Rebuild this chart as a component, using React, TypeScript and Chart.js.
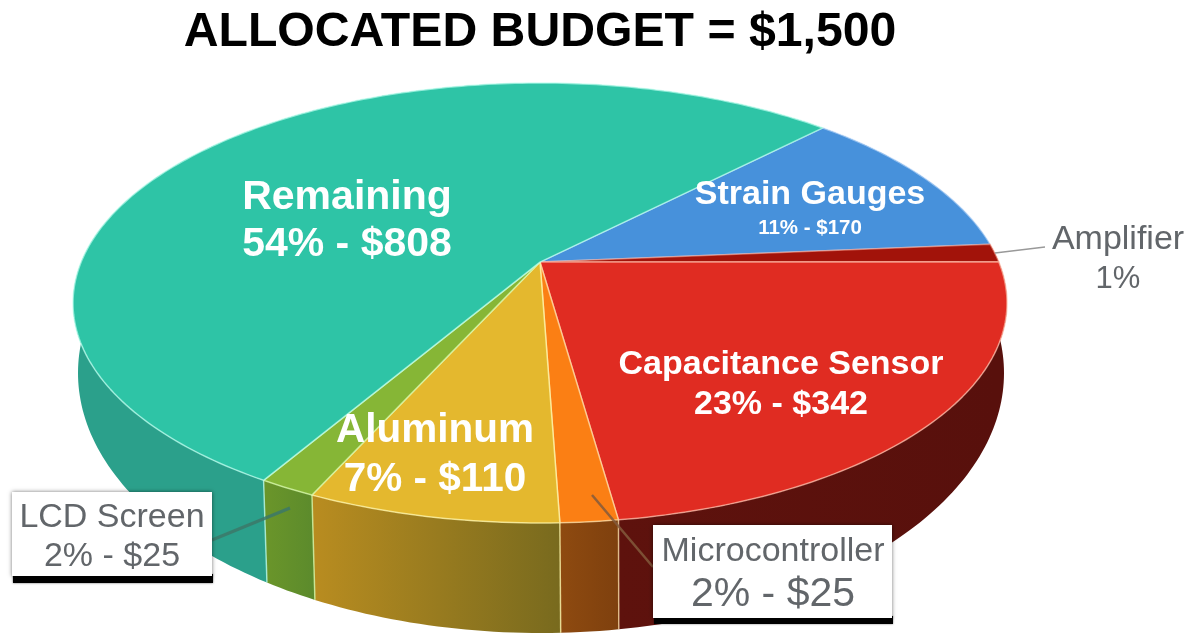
import React, { useEffect, useRef } from "react";
import { Chart, registerables, ArcElement, PieController } from "chart.js";

const titleText = "ALLOCATED BUDGET = $1,500";
const categories = ["Strain Gauges", "Amplifier", "Capacitance Sensor", "Microcontroller", "Aluminum", "LCD Screen", "Remaining"];
const amounts = [170, 20, 342, 25, 110, 25, 808];
const detailLines = ["11% - $170", "1%", "23% - $342", "2% - $25", "7% - $110", "2% - $25", "54% - $808"];
const topColors = ["#4791db", "#a2130a", "#e02c22", "#fb7f14", "#e4b82e", "#86b636", "#2ec4a6"];
const wallFrom = ["#2f6aa5", "#6e0d07", "#5e120d", "#8e4a10", "#b88c20", "#6a952a", "#2ba08b"];
const wallTo = ["#2f6aa5", "#6e0d07", "#58100c", "#7e400e", "#786a1e", "#5b8a2c", "#279b85"];
const edgeColors = ["rgba(200,225,255,.6)", "rgba(255,170,150,.55)", "rgba(255,190,170,.7)", "rgba(255,225,170,.7)", "rgba(255,245,170,.75)", "rgba(215,250,170,.75)", "rgba(190,255,240,.7)"];

// geometry of the tilted pie (top face and base outlines, perspective shift of the apex)
const TOP = { cx: 540, cy: 303, rx: 467, ry: 220 };
const BASE = { cx: 541, cy: 373, rx: 463, ry: 260 };
const TILT = -0.186;
const FONT = '"Liberation Sans", Arial, sans-serif';

function disc(theta: number, r: number) {
  const u = r * Math.cos(theta);
  const v = r * Math.sin(theta);
  const d = 1 + TILT * v;
  return { u: (u * Math.sqrt(1 - TILT * TILT)) / d, v: (v + TILT) / d };
}
function project(theta: number, r: number, e: typeof TOP) {
  const p = disc(theta, r);
  return { x: e.cx + e.rx * p.u, y: e.cy + e.ry * p.v };
}

class Arc3D extends ArcElement {
  static id = "arc3d";
  angles() {
    const { startAngle, endAngle } = (this as any).getProps(["startAngle", "endAngle"], true);
    return { a0: startAngle as number, a1: endAngle as number };
  }
  drawWall(ctx: CanvasRenderingContext2D, index: number) {
    const { a0, a1 } = this.angles();
    const steps = Math.max(2, Math.ceil((a1 - a0) / (Math.PI / 180)));
    const p0 = project(a0, 1, BASE);
    const p1 = project(a1, 1, BASE);
    const g = ctx.createLinearGradient(Math.min(p0.x, p1.x), 0, Math.max(p0.x, p1.x) + 1, 0);
    g.addColorStop(0, wallFrom[index]);
    g.addColorStop(1, wallTo[index]);
    ctx.beginPath();
    for (let i = 0; i <= steps; i++) {
      const p = project(a0 + ((a1 - a0) * i) / steps, 1, TOP);
      i ? ctx.lineTo(p.x, p.y) : ctx.moveTo(p.x, p.y);
    }
    for (let i = steps; i >= 0; i--) {
      const p = project(a0 + ((a1 - a0) * i) / steps, 1, BASE);
      ctx.lineTo(p.x, p.y);
    }
    ctx.closePath();
    ctx.fillStyle = g;
    ctx.fill();
  }
  drawSeams(ctx: CanvasRenderingContext2D, index: number) {
    const { a0 } = this.angles();
    const t = project(a0, 1, TOP);
    const b = project(a0, 1, BASE);
    ctx.beginPath();
    ctx.moveTo(t.x, t.y);
    ctx.lineTo(b.x, b.y);
    ctx.strokeStyle = edgeColors[index];
    ctx.lineWidth = 1.5;
    ctx.stroke();
  }
  draw(ctx: CanvasRenderingContext2D) {
    const { a0, a1 } = this.angles();
    const o = (this as any).options;
    const steps = Math.max(2, Math.ceil((a1 - a0) / (Math.PI / 180)));
    const apex = project(0, 0, TOP);
    ctx.beginPath();
    ctx.moveTo(apex.x, apex.y);
    for (let i = 0; i <= steps; i++) {
      const p = project(a0 + ((a1 - a0) * i) / steps, 1, TOP);
      ctx.lineTo(p.x, p.y);
    }
    ctx.closePath();
    ctx.fillStyle = o.backgroundColor;
    ctx.fill();
    ctx.strokeStyle = o.borderColor;
    ctx.lineWidth = o.borderWidth;
    ctx.lineJoin = "round";
    ctx.stroke();
  }
}

class Pie3DController extends PieController {
  static id = "pie3d";
  static defaults = { dataElementType: "arc3d" };
  draw() {
    const ctx = (this as any).chart.ctx as CanvasRenderingContext2D;
    const els = (this as any)._cachedMeta.data as Arc3D[];
    els.forEach((e, i) => e.drawWall(ctx, i));
    els.forEach((e, i) => e.drawSeams(ctx, i));
    super.draw();
  }
}

Chart.register(...registerables, Arc3D, Pie3DController);

const insideLabels = [
  { i: 6, x: 347, y: [198, 245], size: [41, 41] },
  { i: 0, x: 810, y: [195, 228], size: [34, 20.5] },
  { i: 2, x: 781, y: [365, 405], size: [34, 34] },
  { i: 4, x: 435, y: [431, 480], size: [40.5, 40.5] },
];
const callouts = [
  { i: 5, box: [12, 492, 200, 84], bar: 7, x: 112, y: [518, 557], size: [34, 34], line: [212, 540, 290, 508], lineColor: "rgba(60,120,105,.85)", lineWidth: 3 },
  { i: 3, box: [653, 525, 239, 93], bar: 6, x: 773, y: [552, 595], size: [34, 41], line: [653, 567, 592, 495], lineColor: "rgba(130,90,60,.85)", lineWidth: 2.5 },
  { i: 1, box: null, bar: 0, x: 1118, y: [240, 279], size: [34, 31], line: [995, 253, 1045, 247], lineColor: "#999999", lineWidth: 1.5 },
];

const labelsPlugin = {
  id: "sliceLabels",
  afterDatasetsDraw(chart: any) {
    const ctx = chart.ctx as CanvasRenderingContext2D;
    ctx.save();
    ctx.textAlign = "center";
    ctx.textBaseline = "middle";
    for (const l of insideLabels) {
      ctx.fillStyle = "#ffffff";
      ctx.font = `bold ${l.size[0]}px ${FONT}`;
      ctx.fillText(categories[l.i], l.x, l.y[0]);
      ctx.font = `bold ${l.size[1]}px ${FONT}`;
      ctx.fillText(detailLines[l.i], l.x, l.y[1]);
    }
    for (const c of callouts) {
      ctx.beginPath();
      ctx.moveTo(c.line[0], c.line[1]);
      ctx.lineTo(c.line[2], c.line[3]);
      ctx.strokeStyle = c.lineColor;
      ctx.lineWidth = c.lineWidth;
      ctx.stroke();
      if (c.box) {
        const [x, y, w, h] = c.box;
        ctx.save();
        ctx.shadowColor = "rgba(0,0,0,.6)";
        ctx.shadowBlur = 2;
        ctx.fillStyle = "#000000";
        ctx.fillRect(x + 1, y + h - 2, w, c.bar + 2);
        ctx.shadowColor = "rgba(0,0,0,.55)";
        ctx.shadowBlur = 4;
        ctx.fillStyle = "#ffffff";
        ctx.fillRect(x, y, w, h);
        ctx.restore();
      }
      ctx.fillStyle = "#62666a";
      ctx.font = `${c.size[0]}px ${FONT}`;
      ctx.fillText(categories[c.i], c.x, c.y[0]);
      ctx.font = `${c.size[1]}px ${FONT}`;
      ctx.fillText(detailLines[c.i], c.x, c.y[1]);
    }
    ctx.restore();
  },
};

export default function App() {
  const ref = useRef<HTMLCanvasElement>(null);
  useEffect(() => {
    document.body.style.margin = "0";
    const chart = new Chart(ref.current!, {
      type: "pie3d" as any,
      data: {
        labels: categories,
        datasets: [
          {
            data: amounts,
            backgroundColor: topColors,
            borderColor: edgeColors,
            borderWidth: 1.5,
          },
        ],
      },
      options: {
        animation: false,
        responsive: false,
        maintainAspectRatio: false,
        rotation: 44.3,
        layout: { padding: { right: 115 } },
        plugins: {
          legend: { display: false },
          tooltip: { enabled: false },
          title: {
            display: true,
            text: titleText,
            color: "#000000",
            font: { family: FONT, size: 48.2, weight: "bold" },
            padding: { top: 4, bottom: 0 },
          },
        },
      } as any,
      plugins: [labelsPlugin],
    });
    return () => chart.destroy();
  }, []);
  return <canvas ref={ref} width={1195} height={633} style={{ display: "block", width: 1195, height: 633 }} />;
}
